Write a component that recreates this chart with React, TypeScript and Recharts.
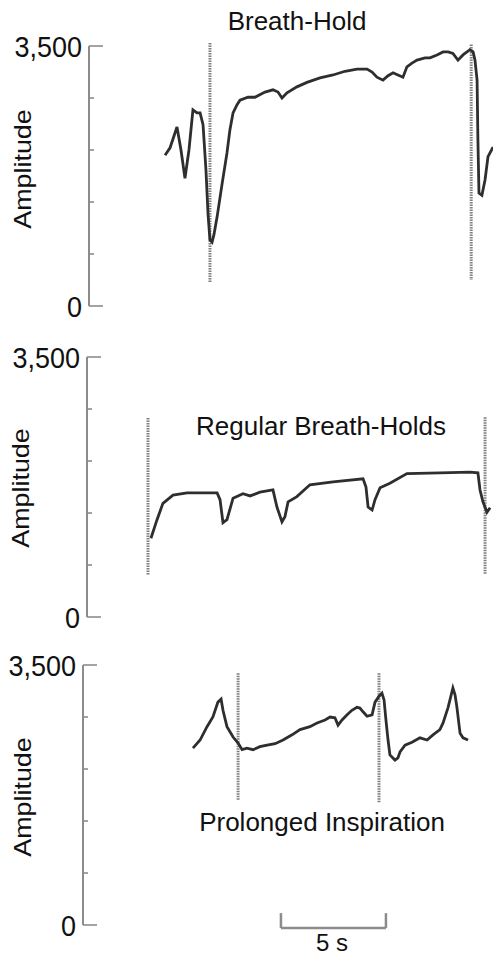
import { LineChart, Line, XAxis, YAxis, ReferenceLine } from "recharts";

// time in seconds, amplitude in raw units
const holdT = [3.62, 3.86, 4.19, 4.38, 4.57, 4.76, 4.95, 5.14, 5.29, 5.43, 5.57, 5.67, 5.76, 5.86, 5.95, 6.1, 6.33, 6.57, 6.71, 6.86, 7.05, 7.19, 7.57, 7.9, 8.38, 8.76, 9.0, 9.19, 9.43, 9.9, 10.38, 11.0, 11.62, 12.19, 12.76, 13.24, 13.48, 13.71, 14.0, 14.24, 14.48, 14.71, 14.95, 15.14, 15.38, 15.62, 16.0, 16.24, 16.57, 16.86, 17.1, 17.33, 17.57, 17.81, 18.14, 18.29, 18.38, 18.48, 18.52, 18.57, 18.71, 18.86, 19.0, 19.24];
const holdV = [2030, 2130, 2410, 2100, 1720, 2100, 2640, 2600, 2600, 2440, 1830, 1230, 890, 860, 960, 1200, 1630, 2060, 2370, 2600, 2710, 2770, 2810, 2810, 2880, 2910, 2880, 2800, 2870, 2950, 3010, 3070, 3110, 3160, 3190, 3190, 3150, 3080, 3040, 3100, 3140, 3110, 3080, 3220, 3270, 3310, 3340, 3340, 3380, 3420, 3420, 3400, 3310, 3380, 3450, 3420, 3310, 3040, 2230, 1520, 1490, 1700, 2010, 2140];
const holdMarkT = [5.76, 18.2];
const holdMarkTop = [3540, 3520];
const holdMarkBottom = [320, 350];

const regT = [2.95, 3.24, 3.52, 4.0, 4.67, 6.1, 6.24, 6.38, 6.57, 6.86, 7.33, 7.67, 8.14, 8.76, 8.95, 9.19, 9.33, 9.48, 9.9, 10.52, 11.62, 13.05, 13.19, 13.29, 13.48, 13.62, 13.86, 14.33, 15.14, 16.71, 18.14, 18.52, 18.62, 18.76, 18.95, 19.1];
const regV = [1060, 1310, 1530, 1640, 1670, 1670, 1580, 1270, 1310, 1600, 1660, 1630, 1680, 1710, 1480, 1280, 1350, 1550, 1620, 1780, 1820, 1860, 1750, 1480, 1440, 1580, 1740, 1800, 1930, 1940, 1950, 1940, 1710, 1550, 1410, 1470];
const regMarkT = [2.81, 18.86];
const regMarkTop = [2680, 2690];
const regMarkBottom = [570, 570];

const proT = [4.95, 5.29, 5.62, 5.9, 6.14, 6.29, 6.38, 6.57, 6.86, 7.1, 7.29, 7.52, 7.81, 8.14, 8.48, 8.86, 9.24, 9.67, 10.05, 10.52, 10.86, 11.24, 11.48, 11.71, 11.86, 12.05, 12.29, 12.52, 12.76, 12.9, 13.05, 13.24, 13.48, 13.62, 13.81, 13.95, 14.05, 14.14, 14.24, 14.33, 14.57, 14.71, 14.81, 15.05, 15.38, 15.76, 16.1, 16.38, 16.71, 16.86, 17.1, 17.33, 17.43, 17.52, 17.67, 17.81, 18.05];
const proV = [2380, 2490, 2670, 2800, 3000, 3040, 2890, 2670, 2530, 2450, 2360, 2380, 2360, 2400, 2420, 2440, 2490, 2560, 2630, 2670, 2720, 2760, 2800, 2790, 2690, 2760, 2830, 2890, 2930, 2920, 2870, 2810, 2830, 3000, 3080, 3120, 3030, 2760, 2490, 2290, 2220, 2250, 2330, 2420, 2460, 2520, 2490, 2560, 2630, 2720, 2930, 3190, 3100, 2930, 2580, 2520, 2490];
const proMarkT = [7.1, 13.81];
const proMarkTop = [3390, 3390];
const proMarkBottom = [1680, 1640];

const ampTicks = [0, 700, 1400, 2100, 2800, 3500];
const titles = ["Breath-Hold", "Regular Breath-Holds", "Prolonged Inspiration"];
const scaleStart = 9.14;
const scaleSeconds = 5;

const FONT = '"Liberation Sans", Arial, Helvetica, sans-serif';
const W = 493;
const PX_PER_S = 21;
const ORIGIN_X = 89;
const T_MAX = (W - ORIGIN_X) / PX_PER_S;
const GRAY = "#8c8c8c";

const zip = (t: number[], v: number[]) => t.map((x, i) => ({ t: x, v: v[i] }));

function AmpTick({ y, payload, axisX }: any) {
  const v = payload.value;
  const major = v === 0 || v === 3500;
  return (
    <g>
      <line x1={axisX} x2={axisX + (major ? 14 : 5)} y1={y} y2={y} stroke={GRAY} strokeWidth={1.6} />
      {major && (
        <text
          transform={`translate(${axisX - 7},${y}) scale(1,1.12)`}
          textAnchor="end"
          dominantBaseline="central"
          fontSize={27}
          fontFamily={FONT}
          fill="#111"
        >
          {v.toLocaleString("en-US")}
        </text>
      )}
    </g>
  );
}

function Panel({ top, height, axisX, plotTop, plotBottom, data, markT, markTop, markBottom, scaleBar }: any) {
  const yw = 80;
  return (
    <div style={{ position: "absolute", left: 0, top }}>
      <LineChart
        width={W}
        height={height}
        data={data}
        margin={{ top: plotTop, bottom: height - plotBottom, left: axisX - yw, right: 0 }}
      >
        <XAxis dataKey="t" type="number" domain={[(axisX - ORIGIN_X) / PX_PER_S, T_MAX]} hide allowDataOverflow />
        <YAxis
          type="number"
          domain={[0, 3500]}
          ticks={ampTicks}
          interval={0}
          width={yw}
          axisLine={{ stroke: GRAY, strokeWidth: 2 }}
          tickLine={false}
          tick={(p: any) => <AmpTick {...p} axisX={axisX} />}
        />
        {markT.map((t: number, i: number) => (
          <ReferenceLine
            key={i}
            segment={[{ x: t, y: markTop[i] }, { x: t, y: markBottom[i] }]}
            stroke="#808080"
            strokeWidth={3}
            strokeDasharray="1.5 1"
            ifOverflow="visible"
          />
        ))}
        <Line dataKey="v" type="linear" stroke="#2e2e2e" strokeWidth={2.8} dot={false} isAnimationActive={false} />
        {scaleBar &&
          [
            [{ x: scaleStart, y: -40 }, { x: scaleStart + scaleSeconds, y: -40 }],
            [{ x: scaleStart, y: -40 }, { x: scaleStart, y: 160 }],
            [{ x: scaleStart + scaleSeconds, y: -40 }, { x: scaleStart + scaleSeconds, y: 160 }],
          ].map((seg, i) => (
            <ReferenceLine key={`s${i}`} segment={seg} stroke={GRAY} strokeWidth={2.5} ifOverflow="visible" />
          ))}
      </LineChart>
    </div>
  );
}

const txt = (cx: number, cy: number, size: number, extra = ""): React.CSSProperties => ({
  position: "absolute",
  left: cx,
  top: cy,
  transform: `translate(-50%,-50%) ${extra}`,
  fontSize: size,
  lineHeight: 1,
  whiteSpace: "nowrap",
  fontFamily: FONT,
  color: "#111",
});

export default function App() {
  return (
    <div style={{ position: "absolute", left: 0, top: 0, width: W, height: 955, background: "#fff", overflow: "hidden" }}>
      <style>{`.recharts-surface{overflow:visible}`}</style>
      <Panel top={0} height={318} axisX={89} plotTop={46} plotBottom={306}
        data={zip(holdT, holdV)} markT={holdMarkT} markTop={holdMarkTop} markBottom={holdMarkBottom} />
      <Panel top={318} height={318} axisX={87} plotTop={39} plotBottom={299}
        data={zip(regT, regV)} markT={regMarkT} markTop={regMarkTop} markBottom={regMarkBottom} />
      <Panel top={636} height={319} axisX={83} plotTop={29} plotBottom={289}
        data={zip(proT, proV)} markT={proMarkT} markTop={proMarkTop} markBottom={proMarkBottom} scaleBar />

      <div style={txt(297, 21, 26)}>{titles[0]}</div>
      <div style={txt(321, 426, 26)}>{titles[1]}</div>
      <div style={txt(322, 822, 26)}>{titles[2]}</div>

      <div style={txt(23, 169, 24, "rotate(-90deg) scaleX(1.12)")}>Amplitude</div>
      <div style={txt(21, 488, 24, "rotate(-90deg) scaleX(1.12)")}>Amplitude</div>
      <div style={txt(23, 797, 24, "rotate(-90deg) scaleX(1.12)")}>Amplitude</div>

      <div style={txt(332, 943, 24)}>{`${scaleSeconds} s`}</div>
    </div>
  );
}
